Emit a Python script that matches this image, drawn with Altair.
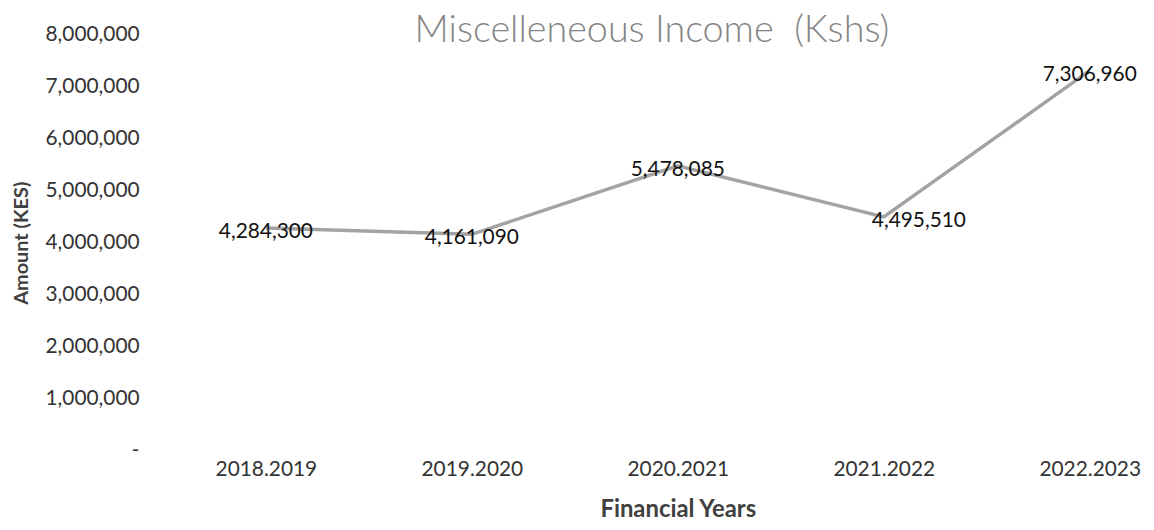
import altair as alt
import pandas as pd

years = ["2018.2019", "2019.2020", "2020.2021", "2021.2022", "2022.2023"]
amounts = [4284300, 4161090, 5478085, 4495510, 7306960]
labels = ["4,284,300", "4,161,090", "5,478,085", "4,495,510", "7,306,960"]

df = pd.DataFrame({"year": years, "amount": amounts, "label": labels})

FONT = "Lato"

x_enc = alt.X("year:N", sort=years, title="Financial Years",
              scale=alt.Scale(type="point", padding=0.23),
              axis=alt.Axis(labelAngle=0, domain=False, ticks=False, labelPadding=8,
                            labelFontSize=21, labelColor="#333333", labelFont=FONT,
                            titleFont=FONT, titleFontSize=24, titleFontWeight="bold",
                            titleColor="#404040", titlePadding=18))
y_enc = alt.Y("amount:Q", title="Amount (KES)",
              scale=alt.Scale(domain=[0, 8000000], nice=False),
              axis=alt.Axis(values=[0, 1000000, 2000000, 3000000, 4000000, 5000000,
                                    6000000, 7000000, 8000000],
                            labelExpr="datum.value == 0 ? '-   ' : format(datum.value, ',')",
                            domain=False, ticks=False, grid=False, labelPadding=80,
                            labelFontSize=21, labelColor="#333333", labelFont=FONT,
                            titleFont=FONT, titleFontSize=20, titleFontWeight="bold",
                            titleColor="#404040", titlePadding=14))

base = alt.Chart(df)

line = base.mark_line(color="#a3a3a3", strokeWidth=3.5).encode(x=x_enc, y=y_enc)

txt_style = dict(font=FONT, fontSize=21, color="#111111", baseline="middle")

text_c = base.transform_filter(alt.datum.year != "2021.2022").mark_text(
    align="center", dy=4, **txt_style
).encode(x=alt.X("year:N", sort=years), y="amount:Q", text="label:N")

text_r = base.transform_filter(alt.datum.year == "2021.2022").mark_text(
    align="left", dx=-12, dy=4, **txt_style
).encode(x=alt.X("year:N", sort=years), y="amount:Q", text="label:N")

chart = alt.layer(line, text_c, text_r).properties(
    width=925, height=419,
    title=alt.TitleParams("Miscelleneous Income \u00a0(Kshs)", font=FONT, fontSize=38,
                          fontWeight=300, color="#858585", anchor="middle",
                          baseline="alphabetic", offset=-56, dx=-26),
    autosize=alt.AutoSizeParams(type="none"),
    padding={"left": 212, "top": 25, "right": 9, "bottom": 76},
).configure(background="white").configure_view(stroke=None)

chart.save("out.html", embed_options={"renderer": "svg", "actions": False})
